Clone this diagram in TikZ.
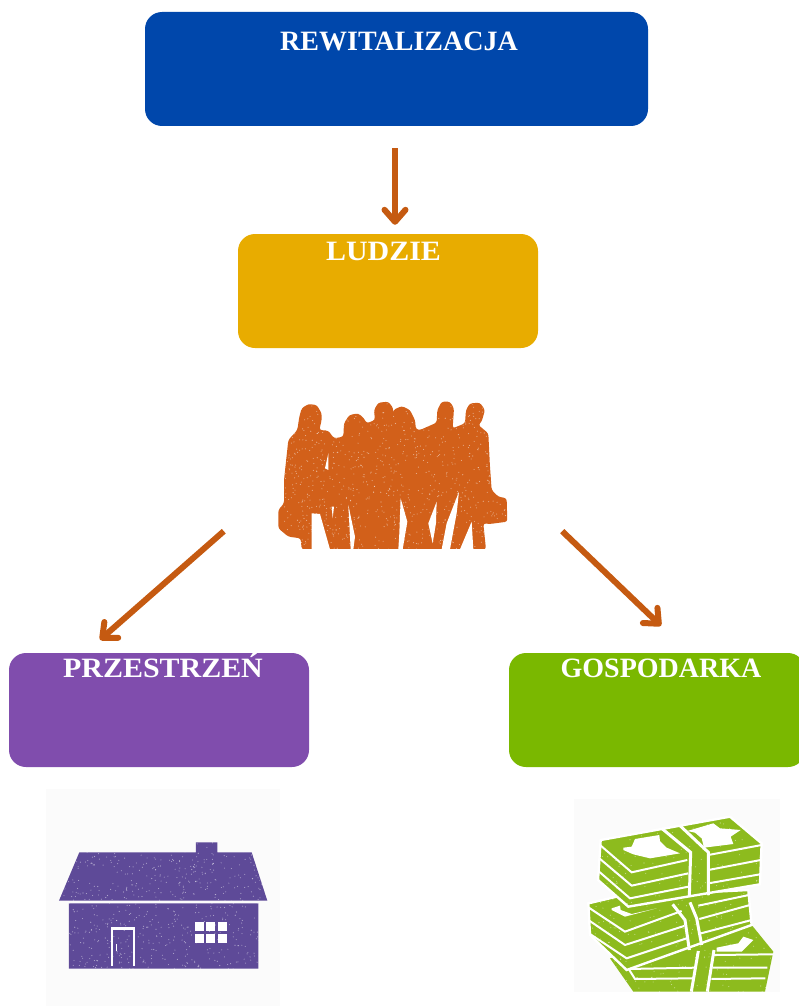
\documentclass[tikz,border=0pt]{standalone}
\usepackage{fontspec}
\setmainfont{Liberation Serif}
\usepackage{tikz}
\usetikzlibrary{arrows.meta}
\definecolor{myblue}{HTML}{0047AB}
\definecolor{mygold}{HTML}{E8AC00}
\definecolor{mypurple}{HTML}{804DAD}
\definecolor{mygreen}{HTML}{7AB800}
\definecolor{myorange}{HTML}{D2601A}
\definecolor{myarrowcol}{HTML}{C55A11}
\definecolor{myhouse}{HTML}{5E4A98}
\definecolor{mycash}{HTML}{8DBB1E}
\definecolor{mypaper}{HTML}{FBFBFB}
\newcommand{\myspeckle}[5]{%
	\foreach \i in {1,...,#5} {
		\fill[white, opacity=0.5] ({#1+rnd*#3},{#2+rnd*#4}) circle (0.55pt);
	}
}
\begin{document}
\begin{tikzpicture}[
			x=1pt, y=-1pt,
			mybox/.style={rounded corners=17pt, minimum height=114pt, inner sep=0pt},
			mytitle/.style={text=white, anchor=base, font=\bfseries\fontsize{28}{30}\selectfont, inner sep=0pt},
			myarrow/.style={-{Straight Barb[length=12pt, width=21pt, round]}, line width=6pt, color=myarrowcol},
			mycut/.style={draw=white, line width=2},
			myicon/.style={minimum width=229pt, minimum height=148pt, inner sep=0pt}
		]

		\useasboundingbox (0,0) rectangle (799,1006);

		\pgfmathsetseed{4242}

		\node[mybox, fill=myblue, minimum width=503pt] (rewit) at (396.5,69) {};
		\node[mybox, fill=mygold, minimum width=300pt] (ludzie) at (388,291) {};
		\node[mybox, fill=mypurple, minimum width=300pt] (przestrzen) at (159,710) {};
		\node[mybox, fill=mygreen, minimum width=296pt] (gospodarka) at (657,710) {};

		\node[mytitle] (rewittext) at (399,51) {REWITALIZACJA};
		\node[mytitle] (ludzietext) at (383.5,260) {\scalebox{1.07}[1]{LUDZIE}};
		\node[mytitle] (przestrzentext) at (163,677) {\scalebox{1.07}[1]{PRZESTRZEŃ}};
		\node[mytitle] (gospodarkatext) at (661,677) {GOSPODARKA};

		\node[myicon] (people) at (392.5,476) {};

		\begin{scope}[shift={(260,390)}, x=0.3333pt, y=-0.3333pt]
			\begin{scope}
				\path[clip, rounded corners=2.5pt] (125,478) -- (122,445) -- (85,440) -- (55,415) -- (55,360) -- (72,340) -- (72,270) -- (85,150) -- (112,120) -- (118,80) -- (125,55) -- (145,42) -- (170,45) -- (185,70) -- (185,90) -- (178,120) -- (205,122) -- (222,145) -- (250,140) -- (252,100) -- (268,75) -- (295,70) -- (312,85) -- (320,100) -- (345,90) -- (342,60) -- (355,38) -- (385,35) -- (400,55) -- (398,80) -- (400,60) -- (425,48) -- (450,60) -- (465,90) -- (468,118) -- (480,120) -- (530,98) -- (532,60) -- (545,35) -- (570,35) -- (582,55) -- (578,115) -- (615,100) -- (618,60) -- (630,40) -- (660,38) -- (675,60) -- (665,95) -- (655,105) -- (685,130) -- (690,230) -- (695,300) -- (715,320) -- (740,325) -- (742,395) -- (690,402) -- (670,400) -- (678,478) -- cycle;
				\fill[myorange] (40,20) rectangle (750,478);
				\myspeckle{60}{40}{680}{438}{900}
			\end{scope}
			\fill[white] (155,478) -- (155,370) -- (180,372) -- (210,478) -- cycle;
			\fill[white] (272,478) -- (265,345) -- (285,440) -- (280,478) -- cycle;
			\fill[white] (415,478) -- (418,430) -- (422,325) -- (442,395) -- (428,478) -- cycle;
			\fill[white] (530,335) -- (505,400) -- (518,460) -- (528,400) -- cycle;
			\fill[white] (545,478) -- (560,400) -- (597,305) -- (590,370) -- (570,478) -- cycle;
			\fill[white] (600,478) -- (635,395) -- (640,478) -- cycle;
			\fill[white] (205,190) -- (195,235) -- (205,240) -- cycle;
			\fill[white] (215,350) -- (218,385) -- (222,350) -- cycle;
		\end{scope}

		\fill[mypaper] (46,789) rectangle (280,1006);
		\begin{scope}[shift={(40,785)}, x=0.3333pt, y=-0.3333pt]
			\begin{scope}
				\path[clip] (118,202) -- (468,202) -- (468,172) -- (532,172) -- (532,202) -- (635,202) -- (682,347) -- (57,347) -- cycle (87,355) rectangle (655,551);
				\fill[myhouse] (50,165) rectangle (690,555);
				\myspeckle{55}{170}{630}{385}{700}
			\end{scope}
			\draw[white, line width=2.4pt] (216,543) -- (216,430) -- (282,430) -- (282,543);
			\draw[white, line width=0.8pt] (229,478) -- (229,498);
			\foreach \wx in {464,499,535} {
				\foreach \wy in {410,447} {
					\fill[white] (\wx,\wy) rectangle ++(27,28);
				}
			}
		\end{scope}

		\fill[mypaper] (574,799) rectangle (780,992);
		\begin{scope}[shift={(570,795)}, x=0.3333pt, y=-0.3333pt]
			\begin{scope}
				\path[clip] (120,490) -- (545,390) -- (610,470) -- (585,590) -- (190,590) -- cycle;
				\fill[mycash] (110,380) rectangle (620,592);
				\myspeckle{110}{400}{500}{190}{120}
			\end{scope}
			\fill[white] (440,458) -- (505,445) -- (520,425) -- (550,435) -- (515,470) -- (440,470) -- cycle;
			\draw[mycut] (175,522) -- (380,518) (432,480) -- (610,478) (428,518) -- (592,518);
			\draw[mycut] (178,525) -- (195,552) -- (370,550) (424,552) -- (586,550);
			\draw[mycut, line width=3] (385,468) -- (364,590) (432,465) -- (412,590);

			\begin{scope}
				\path[clip] (55,325) -- (140,305) -- (535,285) -- (545,390) -- (170,525) -- (60,420) -- cycle;
				\fill[mycash] (50,280) rectangle (550,530);
				\myspeckle{50}{290}{500}{230}{150}
			\end{scope}
			\draw[white, line width=2.4] (55,325) -- (140,305) -- (535,285) -- (545,390) -- (170,525) -- (60,420) -- cycle;
			\fill[white] (125,340) -- (150,332) -- (152,345) -- (185,357) -- (260,340) -- (165,365) -- (125,345) -- cycle;
			\draw[mycut] (55,337) -- (165,410) -- (335,348) (385,332) -- (537,300);
			\draw[mycut] (55,375) -- (165,450) -- (342,393) (388,372) -- (540,330);
			\draw[mycut] (57,415) -- (170,490) -- (350,430) (393,415) -- (545,375);
			\draw[mycut, line width=3] (308,328) -- (345,375) -- (358,465) (360,322) -- (380,370) -- (395,450);

			\begin{scope}
				\path[clip] (92,135) -- (480,65) -- (575,145) -- (570,268) -- (175,335) -- (84,255) -- cycle;
				\fill[mycash] (80,60) rectangle (580,340);
				\myspeckle{80}{70}{500}{270}{160}
			\end{scope}
			\draw[white, line width=2.4] (92,135) -- (480,65) -- (575,145) -- (570,268) -- (175,335) -- (84,255) -- cycle;
			\fill[white] (160,158) -- (185,155) -- (195,132) -- (268,120) -- (270,138) -- (290,158) -- (330,175) -- (240,190) -- (190,178) -- (160,165) -- cycle;
			\fill[white] (352,108) -- (430,85) -- (450,100) -- (512,105) -- (482,125) -- (490,147) -- (402,158) -- (395,130) -- (375,113) -- cycle;
			\draw[mycut] (90,150) -- (185,232) -- (352,195) (415,180) -- (575,150);
			\draw[mycut] (88,190) -- (185,272) -- (355,235) (415,225) -- (572,195);
			\draw[mycut] (85,228) -- (180,310) -- (355,275) (415,265) -- (570,238);
			\draw[mycut, line width=3] (275,100) -- (362,172) -- (358,305) (330,92) -- (415,172) -- (415,300);
		\end{scope}

		\draw[myarrow] ([xshift=-1.5pt, yshift=-22pt]rewit.south) -- ([xshift=7pt, yshift=9pt]ludzie.north);
		\draw[myarrow] ([xshift=-54pt, yshift=19pt]people.south west) -- ([xshift=-59pt, yshift=13pt]przestrzen.north);
		\draw[myarrow] ([xshift=55pt, yshift=19pt]people.south east) -- ([xshift=4pt, yshift=27pt]gospodarka.north);

	\end{tikzpicture}
\end{document}
